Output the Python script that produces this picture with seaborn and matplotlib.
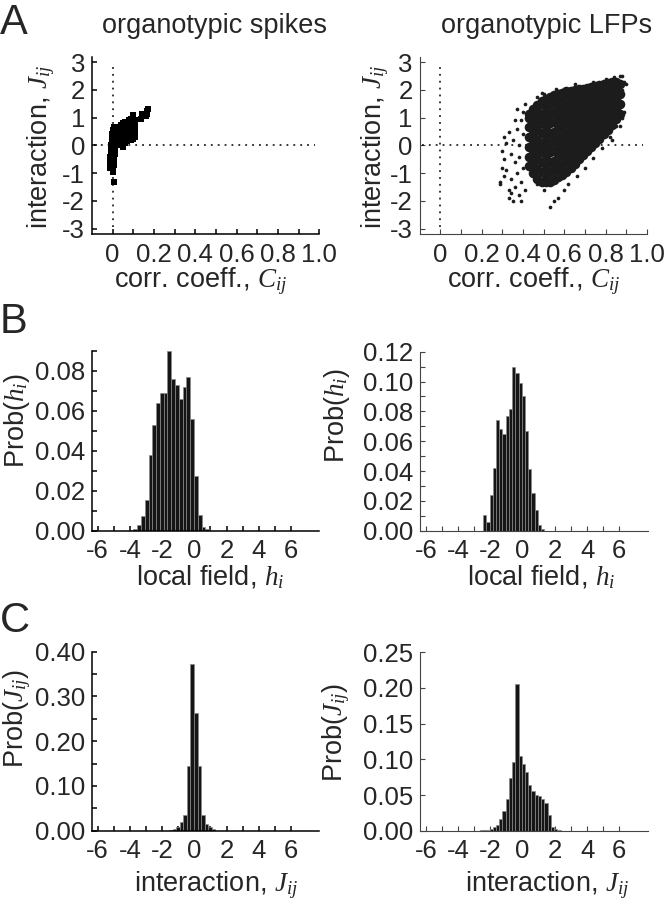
import numpy as np
import seaborn as sns
import matplotlib
matplotlib.use("Agg")
import matplotlib.pyplot as plt
from matplotlib.ticker import FixedLocator, NullFormatter

# ---- data ----
# A left: organotypic spikes, J_ij vs C_ij
spike_x = [-0.015, -0.013, -0.011, -0.009, -0.007, -0.005, -0.003, 0.0, 0.004, 0.006,
           0.008, 0.010, 0.012, 0.014, 0.016, 0.012, 0.007, -0.010, 0.0, 0.005,
           0.02, 0.02, 0.02, 0.02, 0.02,
           0.03, 0.03, 0.03, 0.03, 0.03,
           0.04, 0.04, 0.04, 0.04, 0.04, 0.04,
           0.05, 0.05, 0.05, 0.05, 0.05, 0.05, 0.05,
           0.06, 0.06, 0.06, 0.06, 0.06, 0.06,
           0.07, 0.07, 0.07, 0.07, 0.07, 0.07,
           0.08, 0.08, 0.08, 0.08, 0.08, 0.08,
           0.09, 0.09, 0.09, 0.09, 0.09, 0.09,
           0.10, 0.10, 0.10, 0.10, 0.10, 0.10, 0.10,
           0.11, 0.11, 0.11, 0.11, 0.11,
           0.138, 0.140, 0.142, 0.163, 0.166, 0.168, 0.170]
spike_y = [-0.80, -0.60, -0.40, -0.20, 0.00, 0.20, 0.40, 0.55, -0.95, -0.70,
           -0.50, -0.30, -0.10, 0.10, 0.30, 0.50, -1.30, -0.70, -0.85, 0.65,
           0.00, 0.15, 0.30, 0.45, 0.60,
           0.05, 0.20, 0.35, 0.50, 0.65,
           0.05, 0.20, 0.35, 0.50, 0.65, 0.75,
           -0.05, 0.10, 0.25, 0.40, 0.55, 0.70, 0.80,
           0.10, 0.25, 0.40, 0.55, 0.70, 0.85,
           0.15, 0.30, 0.45, 0.60, 0.75, 0.85,
           0.20, 0.35, 0.50, 0.65, 0.80, 0.90,
           0.20, 0.35, 0.50, 0.65, 0.80, 0.95,
           0.25, 0.40, 0.55, 0.70, 0.85, 1.00, 1.10,
           0.30, 0.45, 0.60, 0.75, 0.90,
           0.95, 1.05, 1.15, 1.05, 1.15, 1.25, 1.30]

# A right: organotypic LFPs, dense core (by column of C_ij) and sparse outliers
lfp_core_cols = [0.43, 0.45, 0.47, 0.49, 0.51, 0.53, 0.55, 0.57, 0.59, 0.61, 0.63, 0.65,
                 0.67, 0.69, 0.71, 0.73, 0.75, 0.77, 0.79, 0.81, 0.83, 0.85, 0.87]
lfp_core_rows = [
    [-0.75, -0.40, -0.05, 0.30, 0.65, 1.00, 1.15],
    [-1.00, -0.65, -0.30, 0.05, 0.40, 0.75, 1.10, 1.30],
    [-1.20, -0.85, -0.50, -0.15, 0.20, 0.55, 0.90, 1.25, 1.45],
    [-1.30, -0.95, -0.60, -0.25, 0.10, 0.45, 0.80, 1.15, 1.50, 1.60],
    [-1.33, -1.05, -0.70, -0.35, 0.00, 0.35, 0.70, 1.05, 1.40, 1.67],
    [-1.30, -0.95, -0.60, -0.25, 0.10, 0.45, 0.80, 1.15, 1.50, 1.75],
    [-1.25, -0.90, -0.55, -0.20, 0.15, 0.50, 0.85, 1.20, 1.55, 1.80],
    [-1.15, -0.80, -0.45, -0.10, 0.25, 0.60, 0.95, 1.30, 1.65, 1.85],
    [-1.05, -0.70, -0.35, 0.00, 0.35, 0.70, 1.05, 1.40, 1.75, 1.90],
    [-0.95, -0.60, -0.25, 0.10, 0.45, 0.80, 1.15, 1.50, 1.85, 1.95],
    [-0.80, -0.45, -0.10, 0.25, 0.60, 0.95, 1.30, 1.65, 1.97],
    [-0.65, -0.30, 0.05, 0.40, 0.75, 1.10, 1.45, 1.80, 2.00],
    [-0.50, -0.15, 0.20, 0.55, 0.90, 1.25, 1.60, 1.95, 2.02],
    [-0.35, 0.00, 0.35, 0.70, 1.05, 1.40, 1.75, 2.05],
    [-0.20, 0.15, 0.50, 0.85, 1.20, 1.55, 1.90, 2.08],
    [-0.05, 0.30, 0.65, 1.00, 1.35, 1.70, 2.05, 2.12],
    [0.10, 0.45, 0.80, 1.15, 1.50, 1.85, 2.15],
    [0.25, 0.60, 0.95, 1.30, 1.65, 2.00, 2.18],
    [0.40, 0.75, 1.10, 1.45, 1.80, 2.15, 2.22],
    [0.55, 0.90, 1.25, 1.60, 1.95, 2.25],
    [0.75, 1.10, 1.45, 1.80, 2.15, 2.28],
    [0.95, 1.30, 1.65, 2.00, 2.30],
    [1.15, 1.50, 1.85, 2.20],
]
lfp_sparse_x = [0.29, 0.29, 0.30, 0.30, 0.31, 0.31, 0.32, 0.32, 0.33, 0.33, 0.33, 0.34,
                0.34, 0.35, 0.35, 0.36, 0.36, 0.37, 0.37, 0.37, 0.38, 0.38, 0.38, 0.39,
                0.39, 0.40, 0.40, 0.40, 0.41, 0.41, 0.34, 0.31, 0.36, 0.39,
                0.47, 0.50, 0.53, 0.55, 0.57, 0.60, 0.62, 0.66, 0.70, 0.74, 0.78,
                0.82, 0.85, 0.88,
                0.88, 0.88, 0.89, 0.87, 0.89, 0.87, 0.83,
                0.47, 0.49, 0.50, 0.56, 0.57, 0.65, 0.74, 0.80, 0.84, 0.88, 0.90]
lfp_sparse_y = [-1.3, -1.4, -0.8, -0.2, 0.3, -0.5, 0.1, -0.9, -1.6, -1.9, 0.5, -0.3,
                -1.2, -2.0, 0.2, -1.5, -0.6, 0.6, 1.3, -1.0, -1.8, 0.0, -0.4, 0.9,
                -1.3, 1.2, -0.8, 0.4, -1.6, 1.5, -1.7, -1.1, 0.9, -2.0,
                -1.4, -1.6, -2.2, -2.0, -1.9, -1.6, -1.4, -1.1, -0.8, -0.45, -0.1,
                0.3, 0.7, 1.0,
                1.5, 2.0, 2.3, 2.5, 1.2, 0.7, 0.2,
                1.75, 1.9, 1.85, 2.05, 1.95, 2.2, 2.3, 2.4, 2.45, 2.5, 2.2]

# B: local field histograms (bin centres, probabilities)
h_spk_centers = [-3.90, -3.665, -3.43, -3.195, -2.96, -2.725, -2.49, -2.255, -2.02, -1.785,
                 -1.55, -1.315, -1.08, -0.845, -0.61, -0.375, -0.14, 0.095, 0.33, 0.565, 0.80]
h_spk_prob = [0.0003, 0.001, 0.003, 0.0075, 0.0155, 0.038, 0.053, 0.064, 0.069, 0.069,
              0.090, 0.076, 0.073, 0.066, 0.072, 0.077, 0.056, 0.0275, 0.008, 0.002, 0.0007]
h_lfp_centers = [-2.35, -2.15, -1.95, -1.75, -1.55, -1.35, -1.15, -0.95, -0.75, -0.55,
                 -0.35, -0.15, 0.05, 0.25, 0.45, 0.65, 0.85, 1.05, 1.25]
h_lfp_prob = [0.0105, 0.006, 0.024, 0.042, 0.0745, 0.068, 0.0647, 0.077, 0.0815, 0.110,
              0.106, 0.099, 0.090, 0.067, 0.0416, 0.0255, 0.0136, 0.0038, 0.0009]

# C: interaction histograms
j_spk_centers = [-1.45, -1.23, -1.01, -0.79, -0.57, -0.35, -0.13, 0.09, 0.31, 0.53,
                 0.75, 0.97, 1.19]
j_spk_prob = [0.001, 0.003, 0.0075, 0.020, 0.035, 0.145, 0.372, 0.262, 0.145, 0.035,
              0.016, 0.0075, 0.003]
j_lfp_centers = [-2.55, -2.35, -2.15, -1.95, -1.75, -1.55, -1.35, -1.15, -0.95, -0.75,
                 -0.55, -0.35, -0.15, 0.05, 0.25, 0.45, 0.65, 0.85, 1.05, 1.25,
                 1.45, 1.65, 1.85, 2.05, 2.25]
j_lfp_prob = [0.0005, 0.0005, 0.001, 0.0023, 0.005, 0.0084, 0.016, 0.027, 0.045, 0.074,
              0.096, 0.205, 0.105, 0.094, 0.082, 0.0645, 0.055, 0.050, 0.048, 0.045,
              0.039, 0.022, 0.005, 0.002, 0.0005]

corr_ticks = [0, 0.1, 0.2, 0.3, 0.4, 0.5, 0.6, 0.7, 0.8, 0.9, 1.0]
corr_labels = ["0", "", "0.2", "", "0.4", "", "0.6", "", "0.8", "", "1.0"]
field_ticks = [-6, -5, -4, -3, -2, -1, 0, 1, 2, 3, 4, 5, 6]
field_labels = ["-6", "", "-4", "", "-2", "", "0", "", "2", "", "4", "", "6"]

# ---- style ----
sns.set_theme(style="ticks")
plt.rcParams["font.family"] = ["Liberation Sans", "DejaVu Sans"]
plt.rcParams["mathtext.fontset"] = "custom"
plt.rcParams["mathtext.it"] = "Liberation Serif:italic"
plt.rcParams["mathtext.rm"] = "Liberation Serif"
fs_tick = 18.5
fs_lab = 19.5

fig = plt.figure(figsize=(6.68, 8.99), dpi=100)


def frame(ax, col, lw):
    sns.despine(ax=ax)
    for s in ["left", "bottom"]:
        ax.spines[s].set_color(col)
        ax.spines[s].set_linewidth(lw)
    ax.tick_params(direction="in", length=3.5, width=lw, color=col,
                   labelsize=fs_tick, pad=5)
    ax.tick_params(axis="x", pad=6)
    ax.tick_params(which="minor", direction="in", length=3.5, width=lw, color=col)


def hist_panel(ax, centers, prob, ylim, major, minor, fmt):
    w = centers[1] - centers[0]
    sns.histplot(x=centers, weights=prob, bins=len(centers),
                 binrange=(centers[0] - w / 2, centers[-1] + w / 2), ax=ax,
                 color="#151515", edgecolor="#8a8a8a", linewidth=0.5, alpha=1)
    ax.set_xlim(-6.35, 7.75)
    ax.set_ylim(*ylim)
    ax.set_xticks(field_ticks)
    ax.set_xticklabels(field_labels)
    ax.set_yticks(major)
    ax.set_yticklabels([fmt % v for v in major])
    if minor:
        ax.yaxis.set_minor_locator(FixedLocator(minor))
        ax.yaxis.set_minor_formatter(NullFormatter())
    ax.set_ylabel("")
    ax.set_xlabel("")


def xlab(ax, text, xc, yc):
    ax.set_xlabel(text, fontsize=fs_lab)
    ax.xaxis.set_label_coords(xc, yc)
    ax.xaxis.label.set_va("baseline")


left_x, right_x, w_ax = 0.1377, 0.6283, 0.3403

# ---- A: scatter ----
axA1 = fig.add_axes([left_x, 0.7394, w_ax, 0.1976])
axA2 = fig.add_axes([right_x, 0.7394, w_ax, 0.1976])
for ax, col, lw in [(axA1, "black", 1.1), (axA2, "#444444", 0.8)]:
    frame(ax, col, lw)
    ax.set_xlim(-0.1, 1.0)
    ax.set_ylim(-3.2, 3.2)
    ax.set_xticks(corr_ticks)
    ax.set_xticklabels(corr_labels)
    ax.set_yticks([-3, -2, -1, 0, 1, 2, 3])
    ax.set_yticklabels(["-3", "-2", "-1", "0", "1", "2", "3"])
    ax.plot([-0.09, 0.98], [0, 0], color="black", lw=1.1, ls=(0, (1.2, 3.3)), zorder=1)
    ax.plot([0, 0], [-2.95, 2.9], color="black", lw=1.1, ls=(0, (1.2, 3.3)), zorder=1)

sns.scatterplot(x=spike_x, y=spike_y, ax=axA1, s=20, marker="s", color="black",
                edgecolor="black", linewidth=0, legend=False, zorder=3)

core_x = [c for c, row in zip(lfp_core_cols, lfp_core_rows) for _ in row]
core_y = [v for row in lfp_core_rows for v in row]
sns.scatterplot(x=core_x, y=core_y, ax=axA2, s=48, color="#1c1c1c",
                edgecolor="#1c1c1c", linewidth=0, legend=False, zorder=3)
sns.scatterplot(x=lfp_sparse_x, y=lfp_sparse_y, ax=axA2, s=7, color="#1c1c1c",
                edgecolor="#1c1c1c", linewidth=0, legend=False, zorder=3)

xlab(axA1, r"corr. coeff., $C_{ij}$", 0.48, -0.297)
xlab(axA2, r"corr. coeff., $C_{ij}$", 0.50, -0.297)
for ax in (axA1, axA2):
    ax.set_ylabel(r"interaction, $J_{ij}$", fontsize=fs_lab)
axA1.yaxis.set_label_coords(-0.155, 0.49)
axA2.yaxis.set_label_coords(-0.125, 0.49)

fig.text(215 / 668, 1 - 33 / 899, "organotypic spikes", ha="center", va="baseline", fontsize=fs_lab)
fig.text(547 / 668, 1 - 33 / 899, "organotypic LFPs", ha="center", va="baseline", fontsize=fs_lab)

# ---- B: local fields ----
axB1 = fig.add_axes([left_x, 0.4097, w_ax, 0.1999])
axB2 = fig.add_axes([right_x + 0.0008, 0.4097, w_ax, 0.1991])
frame(axB1, "black", 1.1)
frame(axB2, "#444444", 0.8)
hist_panel(axB1, h_spk_centers, h_spk_prob, (0, 0.09),
           [0.0, 0.02, 0.04, 0.06, 0.08], [0.01, 0.03, 0.05, 0.07, 0.09], "%.2f")
hist_panel(axB2, h_lfp_centers, h_lfp_prob, (0, 0.12),
           [0.0, 0.02, 0.04, 0.06, 0.08, 0.10, 0.12], [0.01, 0.03, 0.05, 0.07, 0.09, 0.11], "%.2f")
xlab(axB1, r"local field, $h_i$", 0.519, -0.302)
xlab(axB2, r"local field, $h_i$", 0.532, -0.302)
for ax, yc, yx in [(axB1, 0.616, -0.265), (axB2, 0.644, -0.30)]:
    ax.set_ylabel(r"Prob($h_i$)", fontsize=fs_lab)
    ax.yaxis.set_label_coords(yx, yc)

# ---- C: interactions ----
axC1 = fig.add_axes([left_x, 0.0760, w_ax, 0.1991])
axC2 = fig.add_axes([right_x + 0.0008, 0.0760, w_ax, 0.1984])
frame(axC1, "black", 1.1)
frame(axC2, "#444444", 0.8)
hist_panel(axC1, j_spk_centers, j_spk_prob, (0, 0.40),
           [0.0, 0.10, 0.20, 0.30, 0.40], [0.05, 0.15, 0.25, 0.35], "%.2f")
hist_panel(axC2, j_lfp_centers, j_lfp_prob, (0, 0.25),
           [0.0, 0.05, 0.10, 0.15, 0.20, 0.25], None, "%.2f")
xlab(axC1, r"interaction, $J_{ij}$", 0.546, -0.336)
xlab(axC2, r"interaction, $J_{ij}$", 0.558, -0.336)
for ax, yc, yx in [(axC1, 0.627, -0.26), (axC2, 0.548, -0.30)]:
    ax.set_ylabel(r"Prob($J_{ij}$)", fontsize=fs_lab)
    ax.yaxis.set_label_coords(yx, yc)

# panel letters
fig.text(0.0, 1 - 3 / 899, "A", ha="left", va="top", fontsize=30)
fig.text(0.0, 1 - 302 / 899, "B", ha="left", va="top", fontsize=30)
fig.text(0.0, 1 - 601 / 899, "C", ha="left", va="top", fontsize=30)

fig.savefig("out.png", dpi=100)
